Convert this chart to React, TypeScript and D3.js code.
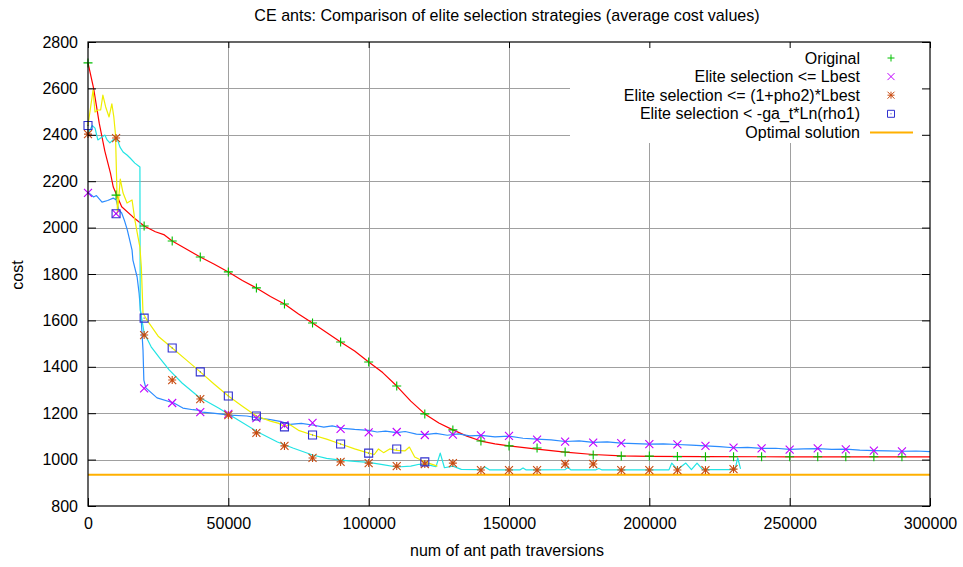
import { useEffect, useRef } from 'react'
import * as d3 from 'd3'

const W = 963
const H = 567
const FONT = '"Liberation Sans", Arial, sans-serif'

const X_TICKS = [0, 50000, 100000, 150000, 200000, 250000, 300000]
const Y_TICKS = [800, 1000, 1200, 1400, 1600, 1800, 2000, 2200, 2400, 2600, 2800]

// x positions of the point markers (one every 10000 traversions)
const MARKER_X = [
  0, 10000, 20000, 30000, 40000, 50000, 60000, 70000, 80000, 90000,
  100000, 110000, 120000, 130000, 140000, 150000, 160000, 170000, 180000, 190000,
  200000, 210000, 220000, 230000, 240000, 250000, 260000, 270000, 280000, 290000,
]

// Original: red line, green + markers
const ORIGINAL_LINE: [number, number][] = [
  [0, 2710], [2000, 2600], [4000, 2450], [6000, 2330], [8000, 2235], [9000, 2175],
  [12000, 2090], [16000, 2046], [20000, 2007], [24000, 1982], [27000, 1970], [30000, 1942],
  [35000, 1908], [40000, 1873], [45000, 1842], [50000, 1809], [55000, 1772], [60000, 1740],
  [65000, 1703], [70000, 1671], [75000, 1628], [80000, 1589], [85000, 1548], [90000, 1507],
  [95000, 1468], [100000, 1421], [105000, 1375], [110000, 1317], [115000, 1252], [120000, 1197],
  [125000, 1158], [130000, 1128], [135000, 1101], [140000, 1080], [145000, 1068], [150000, 1059],
  [160000, 1045], [170000, 1032], [180000, 1022], [190000, 1016], [200000, 1014], [220000, 1013],
  [250000, 1012], [300000, 1012],
]
const ORIGINAL_PTS = [
  2710, 2140, 2007, 1942, 1873, 1809, 1740, 1671, 1589, 1507,
  1421, 1317, 1197, 1128, 1080, 1059, 1050, 1033, 1020, 1015,
  1015, 1013, 1012, 1012, 1012, 1012, 1012, 1012, 1012, 1012,
]

// Elite selection <= Lbest: blue line, purple x markers
const LBEST_LINE: [number, number][] = [
  [0, 2153], [2000, 2132], [3000, 2138], [5000, 2110], [7000, 2117], [9000, 2127],
  [10000, 2120], [11000, 2076], [12000, 2063], [13000, 2030], [14000, 1990], [15700, 1903],
  [16000, 1860], [17500, 1787], [18200, 1718], [18900, 1615], [19600, 1472], [19900, 1343],
  [20600, 1309], [24600, 1266], [30600, 1244], [33800, 1222], [37400, 1215], [39900, 1212],
  [40600, 1205], [44500, 1200], [50600, 1192], [56600, 1188], [60500, 1180], [65000, 1172],
  [68400, 1165], [72000, 1152], [76000, 1156], [80500, 1148], [84000, 1140], [87000, 1145],
  [90800, 1135], [95000, 1130], [100000, 1126], [103000, 1119], [106000, 1123], [110000, 1116],
  [113000, 1121], [117000, 1110], [120000, 1108], [124000, 1113], [128000, 1105], [132000, 1111],
  [136000, 1102], [140000, 1104], [145000, 1098], [150000, 1101], [155000, 1092], [160000, 1088],
  [165000, 1085], [170000, 1078], [175000, 1081], [180000, 1074], [185000, 1076], [190000, 1071],
  [195000, 1069], [200000, 1067], [205000, 1068], [210000, 1065], [215000, 1062], [220000, 1059],
  [225000, 1056], [230000, 1051], [235000, 1053], [240000, 1048], [245000, 1049], [250000, 1044],
  [255000, 1046], [260000, 1047], [265000, 1044], [270000, 1045], [275000, 1041], [280000, 1039],
  [285000, 1038], [290000, 1036], [295000, 1037], [300000, 1034],
]
const LBEST_PTS = [
  2150, 2060, 1307, 1244, 1205, 1197, 1179, 1149, 1158, 1132,
  1117, 1119, 1106, 1108, 1104, 1102, 1086, 1077, 1073, 1071,
  1067, 1066, 1059, 1052, 1048, 1043, 1048, 1044, 1039, 1035,
]

// Elite selection <= (1+pho2)*Lbest: cyan line, orange * markers
const PHO2_LINE: [number, number][] = [
  [0, 2403], [1500, 2440], [2500, 2429], [3500, 2378], [5000, 2390], [6000, 2399],
  [6800, 2378], [7800, 2365], [8900, 2378], [10300, 2386], [11400, 2347], [12500, 2326],
  [13900, 2313], [15000, 2300], [16700, 2278], [18500, 2261], [18600, 1645], [20000, 1546],
  [22500, 1486], [25500, 1438], [29000, 1386], [33500, 1330], [39500, 1270], [46500, 1222],
  [53500, 1171], [60500, 1119], [67500, 1076], [73000, 1050], [80000, 1020], [85000, 1005],
  [90000, 998], [95000, 992], [100000, 988], [105000, 978], [110000, 968], [115000, 972],
  [118000, 980], [122000, 975], [124000, 970], [125500, 1028], [127000, 965], [130000, 972],
  [133000, 958], [140000, 957], [141400, 968], [143000, 956], [154000, 956], [155000, 964],
  [156000, 956], [170000, 957], [171000, 966], [172000, 956], [181000, 956], [182000, 962],
  [183000, 956], [207000, 956], [208000, 985], [210000, 957], [213000, 985], [215000, 957],
  [217000, 985], [219000, 957], [230500, 957], [231500, 1007], [232500, 960],
]
const PHO2_PTS = [
  2403, 2386, 1537, 1343, 1261, 1192, 1115, 1059, 1007, 990,
  985, 972, 981, 985, 955, 955, 955, 981, 981, 955,
  955, 955, 955, 959,
]

// Elite selection < -ga_t*Ln(rho1): yellow line, blue square markers
const RHO1_LINE: [number, number][] = [
  [0, 2440], [1800, 2593], [2500, 2498], [3500, 2507], [4500, 2507], [5300, 2571],
  [6300, 2520], [7500, 2477], [8500, 2533], [9200, 2477], [9800, 2400], [10500, 2063],
  [11500, 2209], [12500, 2149], [13900, 2106], [15700, 2119], [16700, 2033], [17800, 1960],
  [18500, 1916], [19000, 1830], [19600, 1632], [20600, 1610], [21700, 1589], [25000, 1532],
  [30000, 1481], [35000, 1430], [40000, 1378], [45000, 1325], [50000, 1274], [55000, 1230],
  [60000, 1188], [65000, 1166], [68000, 1156], [70000, 1143], [72000, 1150], [75000, 1126],
  [80000, 1106], [85000, 1088], [90000, 1067], [95000, 1046], [100000, 1028], [102000, 1022],
  [103500, 1046], [105300, 1030], [107500, 1046], [110000, 1040], [113000, 1038], [114500, 1054],
  [116400, 1011], [120000, 990], [124500, 972],
]
const RHO1_PTS = [2440, 2060, 1610, 1481, 1378, 1274, 1188, 1141, 1106, 1067, 1028, 1046, 990]

const OPTIMAL = 935

const LEGEND = [
  { label: 'Original', kind: 'plus', color: '#00c000' },
  { label: 'Elite selection <= Lbest', kind: 'cross', color: '#c000ff' },
  { label: 'Elite selection <= (1+pho2)*Lbest', kind: 'star', color: '#c84b10' },
  { label: 'Elite selection < -ga_t*Ln(rho1)', kind: 'square', color: '#3030d0' },
  { label: 'Optimal solution', kind: 'line', color: '#ffb000' },
]

function symbolPath(kind: string, r: number) {
  const plus = `M${-r},0H${r}M0,${-r}V${r}`
  const cross = `M${-r},${-r}L${r},${r}M${-r},${r}L${r},${-r}`
  if (kind === 'plus') return plus
  if (kind === 'cross') return cross
  if (kind === 'star') return plus + cross
  return `M${-r},${-r}H${r}V${r}H${-r}Z M-0.5,0H0.5`
}

export default function App() {
  const ref = useRef<SVGSVGElement>(null)

  useEffect(() => {
    document.body.style.margin = '0'
    if (!ref.current) return

    const svg = d3.select(ref.current)
    svg.selectAll('*').remove()

    const left = 88, right = 930, top = 42, bottom = 506
    const x = d3.scaleLinear().domain([0, 300000]).range([left, right])
    const y = d3.scaleLinear().domain([800, 2800]).range([bottom, top])

    svg.append('rect').attr('width', W).attr('height', H).attr('fill', '#fff')

    // grid
    const grid = svg.append('g').attr('stroke', '#a0a0a0').attr('stroke-width', 1)
    Y_TICKS.slice(1, -1).forEach((t) => {
      grid.append('line').attr('x1', left).attr('x2', right)
        .attr('y1', Math.round(y(t)) + 0.5).attr('y2', Math.round(y(t)) + 0.5)
    })
    X_TICKS.slice(1, -1).forEach((t) => {
      grid.append('line').attr('y1', top).attr('y2', bottom)
        .attr('x1', Math.round(x(t)) + 0.5).attr('x2', Math.round(x(t)) + 0.5)
    })

    // key background hides the grid
    svg.append('rect').attr('x', 570).attr('y', top).attr('width', right - 570).attr('height', 101)
      .attr('fill', '#fff')

    const line = d3.line<[number, number]>().x((d) => x(d[0])).y((d) => y(d[1]))
    const drawLine = (data: [number, number][], color: string) =>
      svg.append('path').datum(data).attr('d', line).attr('fill', 'none')
        .attr('stroke', color).attr('stroke-width', 1.2).attr('stroke-linejoin', 'round')

    drawLine(ORIGINAL_LINE, '#ff0000')
    drawLine(LBEST_LINE, '#2b8cff')
    drawLine(PHO2_LINE, '#22e4e4')
    drawLine(RHO1_LINE, '#eeee00')

    svg.append('line').attr('x1', left).attr('x2', right)
      .attr('y1', y(OPTIMAL)).attr('y2', y(OPTIMAL))
      .attr('stroke', '#ffb000').attr('stroke-width', 2)

    const drawPoints = (vals: number[], kind: string, color: string) => {
      svg.append('g').selectAll('path').data(vals).join('path')
        .attr('transform', (d, i) => `translate(${x(MARKER_X[i])},${y(d)})`)
        .attr('d', symbolPath(kind, kind === 'plus' ? 4.5 : 4))
        .attr('fill', 'none').attr('stroke', color).attr('stroke-width', 1.1)
    }
    drawPoints(ORIGINAL_PTS, 'plus', LEGEND[0].color)
    drawPoints(LBEST_PTS, 'cross', LEGEND[1].color)
    drawPoints(PHO2_PTS, 'star', LEGEND[2].color)
    drawPoints(RHO1_PTS, 'square', LEGEND[3].color)

    // axes: gnuplot style inward ticks on all four sides
    const styleAxis = (g: d3.Selection<SVGGElement, unknown, null, undefined>) => {
      g.select('.domain').remove()
      g.selectAll('line').attr('stroke', '#000')
      g.selectAll('text').attr('fill', '#000').attr('font-family', FONT).attr('font-size', 16)
    }
    svg.append('g').attr('transform', `translate(${left},0)`)
      .call(d3.axisLeft(y).tickValues(Y_TICKS).tickSize(-8).tickSizeOuter(0).tickPadding(10)
        .tickFormat(d3.format('d')))
      .call(styleAxis)
    svg.append('g').attr('transform', `translate(${right},0)`)
      .call(d3.axisRight(y).tickValues(Y_TICKS).tickSize(-8).tickSizeOuter(0).tickFormat(() => ''))
      .call(styleAxis)
    svg.append('g').attr('transform', `translate(0,${bottom})`)
      .call(d3.axisBottom(x).tickValues(X_TICKS).tickSize(-8).tickSizeOuter(0).tickPadding(12)
        .tickFormat(d3.format('d')))
      .call(styleAxis)
    svg.append('g').attr('transform', `translate(0,${top})`)
      .call(d3.axisTop(x).tickValues(X_TICKS).tickSize(-6).tickSizeOuter(0).tickFormat(() => ''))
      .call(styleAxis)

    svg.append('rect').attr('x', left).attr('y', top).attr('width', right - left).attr('height', bottom - top)
      .attr('fill', 'none').attr('stroke', '#000').attr('stroke-width', 1.2)

    // key
    LEGEND.forEach((d, i) => {
      const cy = 58 + i * 18.6
      svg.append('text').attr('x', 860).attr('y', cy + 5.5).attr('text-anchor', 'end')
        .attr('font-family', FONT).attr('font-size', 16).text(d.label)
      if (d.kind === 'line') {
        svg.append('line').attr('x1', 870).attr('x2', 913).attr('y1', cy).attr('y2', cy)
          .attr('stroke', d.color).attr('stroke-width', 2)
      } else {
        svg.append('path').attr('transform', `translate(891,${cy})`)
          .attr('d', symbolPath(d.kind, 3.5)).attr('fill', 'none')
          .attr('stroke', d.color).attr('stroke-width', 1)
      }
    })

    // titles
    svg.append('text').attr('x', 507).attr('y', 21).attr('text-anchor', 'middle')
      .attr('font-family', FONT).attr('font-size', 16.1)
      .text('CE ants: Comparison of elite selection strategies (average cost values)')
    svg.append('text').attr('x', 507).attr('y', 556).attr('text-anchor', 'middle')
      .attr('font-family', FONT).attr('font-size', 16).text('num of ant path traversions')
    svg.append('text').attr('transform', 'translate(23,275) rotate(-90)').attr('text-anchor', 'middle')
      .attr('font-family', FONT).attr('font-size', 16).text('cost')

    return () => {
      svg.selectAll('*').remove()
    }
  }, [])

  return <svg ref={ref} width={W} height={H} style={{ display: 'block' }} />
}
